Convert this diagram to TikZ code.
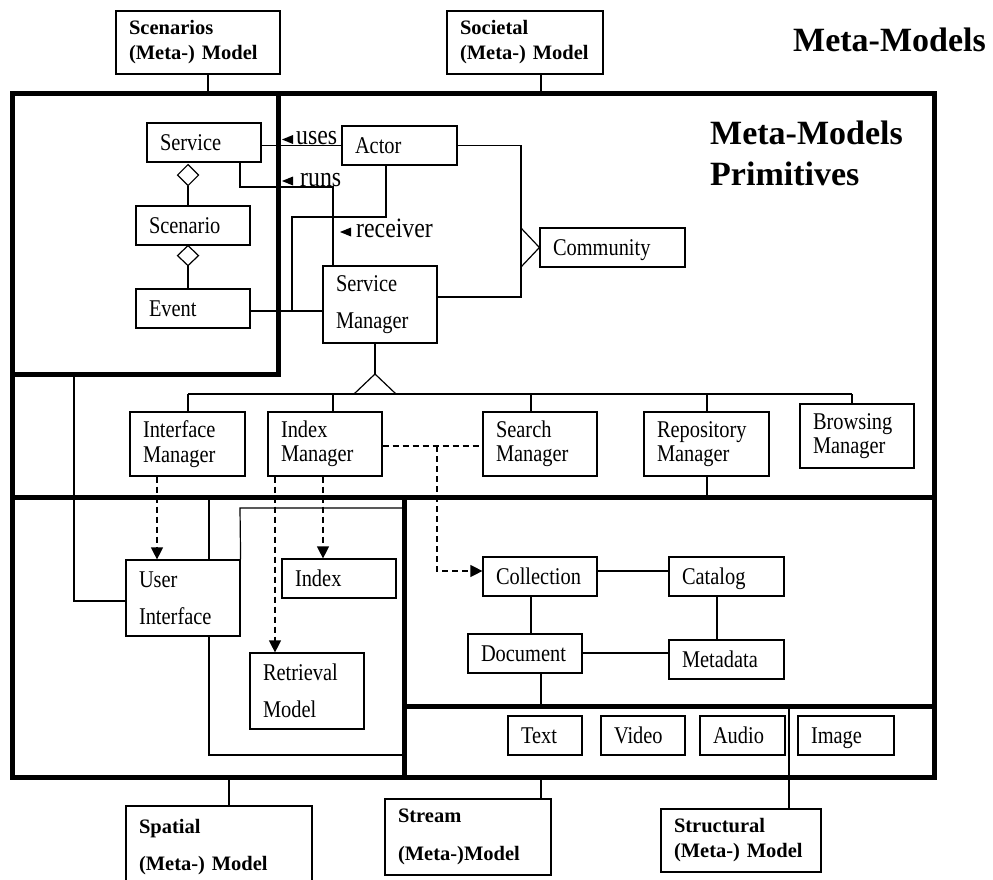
\documentclass[tikz,border=0pt]{standalone}
\usepackage{fontspec}
\setmainfont{Liberation Serif}
\newfontfamily\condserif[FakeStretch=0.85]{Liberation Serif}
\usetikzlibrary{arrows.meta}

\begin{document}
\begin{tikzpicture}[x=1pt,y=-1pt,
  every node/.style={inner sep=0pt},
  ubox/.style={draw, line width=1.2pt, inner xsep=13pt, inner ysep=0pt, align=left,
    font=\condserif\fontsize{24}{24.5}\selectfont},
  oneline/.style={ubox, text height=21pt, text depth=5pt, minimum height=39pt},
  wide/.style={font=\condserif\fontsize{24}{37}\selectfont},
  mbox/.style={ubox, font=\bfseries\fontsize{20.5}{25}\selectfont},
  mwide/.style={font=\bfseries\fontsize{20.5}{37.5}\selectfont},
  conn/.style={line width=1.2pt},
  dashconn/.style={line width=1.2pt, dash pattern=on 6pt off 4pt},
  dep/.style={dashconn, -{Triangle[length=12pt,width=12pt]}},
  frameline/.style={line width=5pt},
  lbl/.style={font=\condserif\fontsize{28}{30}\selectfont, anchor=base west},
  title/.style={font=\bfseries\fontsize{34}{40}\selectfont, anchor=base west},
]
\useasboundingbox (0,0) rectangle (993,880);
\fill[white] (0,0) rectangle (993,880);

% package frames
\draw[frameline] (12,94) rectangle (934,777);
\draw[frameline] (278,94) -- (278,374) -- (12,374);
\draw[frameline] (12,497) -- (934,497);
\draw[frameline] (404,497) -- (404,777);
\draw[frameline] (404,706) -- (934,706);

% titles
\node[title] (mm) at (793,52) {Meta-Models};
\node[title] (mmp1) at (710,145) {Meta-Models};
\node[title] (mmp2) at (710,185) {Primitives};

% meta-model boxes
\node[mbox, text width=138pt, minimum height=63pt] (scen) at (198,42.5) {Scenarios\\(Meta-) Model};
\node[mbox, text width=130pt, minimum height=63pt] (soc) at (525,42.5) {Societal\\(Meta-) Model};
\node[mbox, mwide, text width=160pt, minimum height=82pt] (spatial) at (219,847) {Spatial\\(Meta-) Model};
\node[mbox, mwide, text width=140pt, minimum height=76pt] (stream) at (468,837) {Stream\\(Meta-)Model};
\node[mbox, text width=134pt, minimum height=63pt] (struct) at (741,840.5) {Structural\\(Meta-) Model};

% scenarios and society
\node[oneline, text width=88pt] (service) at (204,142.5) {Service};
\node[oneline, text width=88pt] (scenario) at (193,225.5) {Scenario};
\node[oneline, text width=88pt] (event) at (193,308.5) {Event};
\node[oneline, text width=89pt] (actor) at (399.5,145.5) {Actor};
\node[oneline, text width=119pt] (community) at (612.5,247.5) {Community};
\node[ubox, wide, text width=88pt, minimum height=77pt] (sm) at (380,304.5) {Service\\Manager};

% managers
\node[ubox, text width=89pt, minimum height=64pt] (im) at (187.5,444) {Interface\\Manager};
\node[ubox, text width=88pt, minimum height=64pt] (xm) at (325,444) {Index\\Manager};
\node[ubox, text width=88pt, minimum height=64pt] (sem) at (540,444) {Search\\Manager};
\node[ubox, text width=99pt, minimum height=64pt] (rm) at (706.5,444) {Repository\\Manager};
\node[ubox, text width=88pt, minimum height=64pt] (bm) at (857,436) {Browsing\\Manager};

% spatial part
\node[ubox, wide, text width=88pt, minimum height=76pt] (ui) at (183,598) {User\\Interface};
\node[oneline, text width=88pt] (index) at (339,578.5) {Index};
\node[ubox, wide, text width=88pt, minimum height=76pt] (retr) at (307,691) {Retrieval\\Model};

% structural part
\node[oneline, text width=88pt] (coll) at (540,576.5) {Collection};
\node[oneline, text width=89pt] (cat) at (726.5,576.5) {Catalog};
\node[oneline, text width=88pt] (doc) at (525,653.5) {Document};
\node[oneline, text width=89pt] (meta) at (726.5,659.5) {Metadata};

% streams
\node[oneline, text width=48pt] (text) at (545,735.5) {Text};
\node[oneline, text width=58pt] (video) at (643,735.5) {Video};
\node[oneline, text width=59pt] (audio) at (742.5,735.5) {Audio};
\node[oneline, text width=70pt] (image) at (846,735.5) {Image};

% links to the meta-models
\draw[conn] (scen.south -| 208,0) -- (208,94);
\draw[conn] (soc.south -| 541,0) -- (541,94);
\draw[conn] (229,777) -- (spatial.north -| 229,0);
\draw[conn] (541,777) -- (stream.north -| 541,0);
\draw[conn] (789,706) -- (struct.north -| 789,0);

% aggregation diamonds
\draw[conn] (service.south -| 188,0) ++(0,2) -- ++(-10.5,10.5) -- ++(10.5,10.5) -- ++(10.5,-10.5) -- cycle;
\draw[conn] (188,186) -- (scenario.north -| 188,0);
\draw[conn] (scenario.south -| 188,0) -- ++(-10.5,10) -- ++(10.5,10) -- ++(10.5,-10) -- cycle;
\draw[conn] (188,265) -- (event.north -| 188,0);

% associations
\draw[conn] (service.east |- actor.west) -- (actor.west);
\draw[conn] (service.south -| 240,0) |- (333,187) -- (sm.north -| 333,0);
\draw[conn] (actor.south -| 386,0) |- (292,217) -- (292,311);
\draw[conn] (event.east |- 0,311) -- (sm.west |- 0,311);
\draw[conn] (actor.east) -| (521,297) -- (sm.east |- 0,297);
\draw[conn] (521,228) -- (community.west) -- (521,267);

\node[lbl] (uses) at (296,145) {uses};
\node[lbl] (runs) at (300,186) {runs};
\node[lbl] (receiver) at (356,237) {receiver};
\fill (282,139.5) -- (293,135) -- (293,144) -- cycle;
\fill (282,181) -- (293,176.5) -- (293,185.5) -- cycle;
\fill (340,232) -- (351,227.5) -- (351,236.5) -- cycle;

% generalisation of the service manager
\draw[conn] (sm.south -| 375,0) -- (375,374);
\draw[conn] (354,394) -- (375,374) -- (396,394);
\draw[conn] (188,394) -- (852,394);
\foreach \n/\x in {im/188, xm/333, sem/531, rm/707, bm/852}
  \draw[conn] (\x,394) -- (\n.north -| \x,0);
\draw[conn] (rm.south -| 707,0) -- (707,497);

% dependencies
\draw[dashconn] (xm.east |- 0,446) -- (sem.west |- 0,446);
\draw[dep] (437,446) |- (coll.west |- 0,571);
\draw[dep] (im.south -| 157,0) -- (ui.north -| 157,0);
\draw[dep] (xm.south -| 323,0) -- (index.north -| 323,0);
\draw[dep] (xm.south -| 275,0) -- (retr.north -| 275,0);

% user interface links
\draw[conn] (74,374) |- (ui.west |- 0,601);
\draw[conn] (ui.north -| 209,0) -- (209,497);
\draw[conn] (ui.north east) -- (240,508) -- (404,508);
\draw[conn] (ui.south -| 209,0) |- (404,755);

% digital objects
\draw[conn] (coll.east |- 0,571) -- (cat.west |- 0,571);
\draw[conn] (coll.south -| 531,0) -- (doc.north -| 531,0);
\draw[conn] (cat.south -| 717,0) -- (meta.north -| 717,0);
\draw[conn] (doc.east |- 0,653) -- (meta.west |- 0,653);
\draw[conn] (doc.south -| 541,0) -- (541,706);
\end{tikzpicture}
\end{document}
